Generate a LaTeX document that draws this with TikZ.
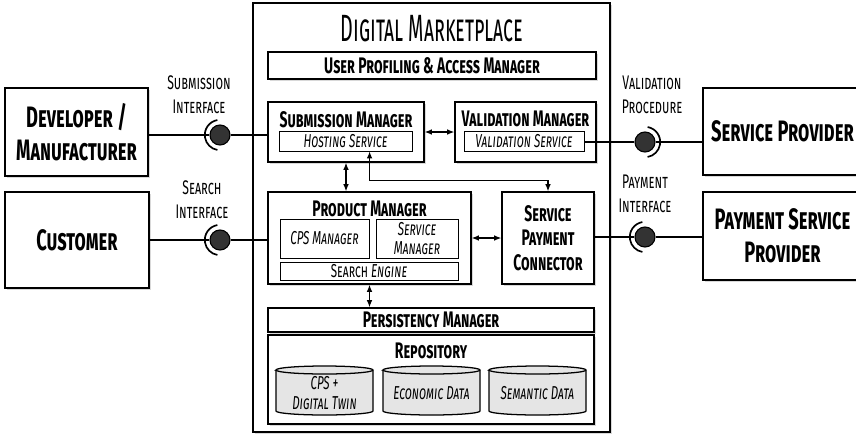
\documentclass[tikz,border=0pt]{standalone}
\usepackage{fontspec}
\setmainfont{Fira Sans}[FakeStretch=0.62]
\newfontfamily\titlefont{Fira Sans}[FakeStretch=0.52]
\usetikzlibrary{positioning,fit,shadows,calc,arrows.meta}

\tikzset{
    box/.style={draw, line width=1.1pt, fill=white, inner sep=0pt,
        drop shadow={shadow xshift=1.2pt, shadow yshift=-1.2pt, opacity=0.3}},
    inbox/.style={draw, line width=0.6pt, fill=white, inner sep=0pt},
    head/.style={font=\fontsize{16}{17}\selectfont\bfseries\scshape, inner sep=1pt, align=center},
    side/.style={font=\fontsize{21}{23.5}\selectfont\bfseries\scshape, align=center},
    iface/.style={font=\fontsize{14}{17}\selectfont\scshape, align=center},
    subtxt/.style={font=\fontsize{13.3}{14}\selectfont\itshape\scshape, align=center},
    link/.style={line width=0.8pt},
    dbl/.style={{Latex[length=5pt,width=4pt]}-{Latex[length=5pt,width=4pt]}, line width=0.8pt},
    ball/.style={circle, fill=black!80, draw=black, line width=0.8pt, minimum size=0.5cm, inner sep=0pt},
    socket/.style={line width=1.2pt}
}

\begin{document}
\begin{tikzpicture}[x=0.025cm, y=-0.025cm]
    \useasboundingbox (0,0) rectangle (856,436);

    % marketplace frame
    \node[box, line width=1.5pt, fit={(253,3) (610,432)}] (market) {};
    \node[font=\fontsize{27}{28}\selectfont\titlefont\scshape] (mtitle) at (432,29) {Digital Marketplace};

    \node[box, fit={(268,52) (596,79)}] (upam) {};
    \node[head] (upamt) at (upam) {User Profiling \& Access Manager};

    % submission and validation
    \node[box, fit={(268,102) (424,162)}] (subm) {};
    \node[head] (submt) at ($(subm.north)+(0,18)$) {Submission Manager};
    \node[inbox, fit={(279,131) (412,151)}] (host) {};
    \node[subtxt] (hostt) at (host) {Hosting Service};

    \node[box, fit={(455,102) (596,162)}] (valm) {};
    \node[head] (valmt) at ($(valm.north)+(0,18)$) {Validation Manager};
    \node[inbox, fit={(464,131) (584,151)}] (vals) {};
    \node[subtxt] (valst) at (vals) {Validation Service};

    % product manager
    \node[box, fit={(268,192) (471,284)}] (prod) {};
    \node[head] (prodt) at ($(prod.north)+(0,18)$) {Product Manager};
    \node[inbox, fit={(280,219) (369,258)}] (cpsm) {};
    \node[subtxt] (cpsmt) at (cpsm) {CPS Manager};
    \node[inbox, fit={(376,219) (458,258)}] (servm) {};
    \node[subtxt] (servmt) at (servm) {Service\\Manager};
    \node[inbox, fit={(280,262) (458,280)}] (search) {};
    \node[font=\fontsize{13.3}{14}\selectfont\scshape] (searcht) at (search) {Search \textit{Engine}};

    \node[box, fit={(502,192) (594,284)}] (spc) {};
    \node[head, font=\fontsize{16}{17.5}\selectfont\bfseries\scshape] (spct) at (spc) {Service\\Payment\\Connector};

    % persistency
    \node[box, fit={(268,308) (594,332)}] (pers) {};
    \node[head] (perst) at (pers) {Persistency Manager};
    \node[box, fit={(268,335) (594,424)}] (repo) {};
    \node[head] (repot) at ($(repo.north)+(0,17)$) {Repository};

    \foreach \x/\nm/\txt in {276/cpsdb/{CPS +\\Digital Twin}, 383/ecodb/Economic Data, 489/semdb/Semantic Data} {
        \filldraw[fill=gray!20, line width=0.9pt] (\x,370) -- (\x,411)
            arc[start angle=180, end angle=360, x radius=1.2125cm, y radius=0.1cm]
            -- ({\x+97},370)
            arc[start angle=0, end angle=180, x radius=1.2125cm, y radius=0.1cm] -- cycle;
        \draw[line width=0.9pt] (\x,370) arc[start angle=180, end angle=360, x radius=1.2125cm, y radius=0.1cm];
        \node[subtxt] (\nm) at ({\x+48.5},393) {\txt};
    }

    % outside actors
    \node[box, fit={(5,88) (148,176)}] (dev) {};
    \node[side] (devt) at (dev) {Developer /\\Manufacturer};
    \node[box, fit={(5,192) (149,288)}] (cust) {};
    \node[side] (custt) at (cust) {Customer};
    \node[box, fit={(703,88) (862,175)}] (prov) {};
    \node[side] (provt) at (prov) {Service Provider};
    \node[box, fit={(703,192) (862,280)}] (pay) {};
    \node[side] (payt) at (pay) {Payment Service\\Provider};

    % interfaces
    \node[ball] (subi) at (220,135) {};
    \node[ball] (seai) at (220,240) {};
    \node[ball] (vali) at (645,142) {};
    \node[ball] (payi) at (645,237) {};

    \draw[link] (dev.east |- subi) -- (subi) -- (subm.west |- subi);
    \draw[link] (cust.east |- seai) -- (seai) -- (prod.west |- seai);
    \draw[link] (vals.east |- vali) -- (vali) -- (prov.west |- vali);
    \draw[link] (spc.east |- payi) -- (payi) -- (pay.west |- payi);

    \draw[socket] ($(subi)+(100:0.38cm)$) arc[start angle=100, end angle=260, radius=0.38cm];
    \draw[socket] ($(seai)+(100:0.38cm)$) arc[start angle=100, end angle=260, radius=0.38cm];
    \draw[socket] ($(vali)+(80:0.38cm)$) arc[start angle=80, end angle=-80, radius=0.38cm];
    \draw[socket] ($(payi)+(100:0.38cm)$) arc[start angle=100, end angle=260, radius=0.38cm];

    \node[iface] (subl) at (199,95) {Submission\\Interface};
    \node[iface] (seal) at (202,200) {Search\\Interface};
    \node[iface] (vall) at (652,95) {Validation\\Procedure};
    \node[iface] (payl) at (645,194) {Payment\\Interface};

    % internal links
    \draw[dbl] (subm.east) -- (valm.west);
    \draw[dbl] (subm.south) -- (subm.south |- prod.north);
    \coordinate (hs) at ($(host.south west)!0.68!(host.south east)$);
    \draw[dbl] (hs) -- ++(0,29) -| (spc.north);
    \draw[dbl] (prod.east) -- (spc.west);
    \draw[dbl] (prod.south) -- (prod.south |- pers.north);
\end{tikzpicture}
\end{document}
